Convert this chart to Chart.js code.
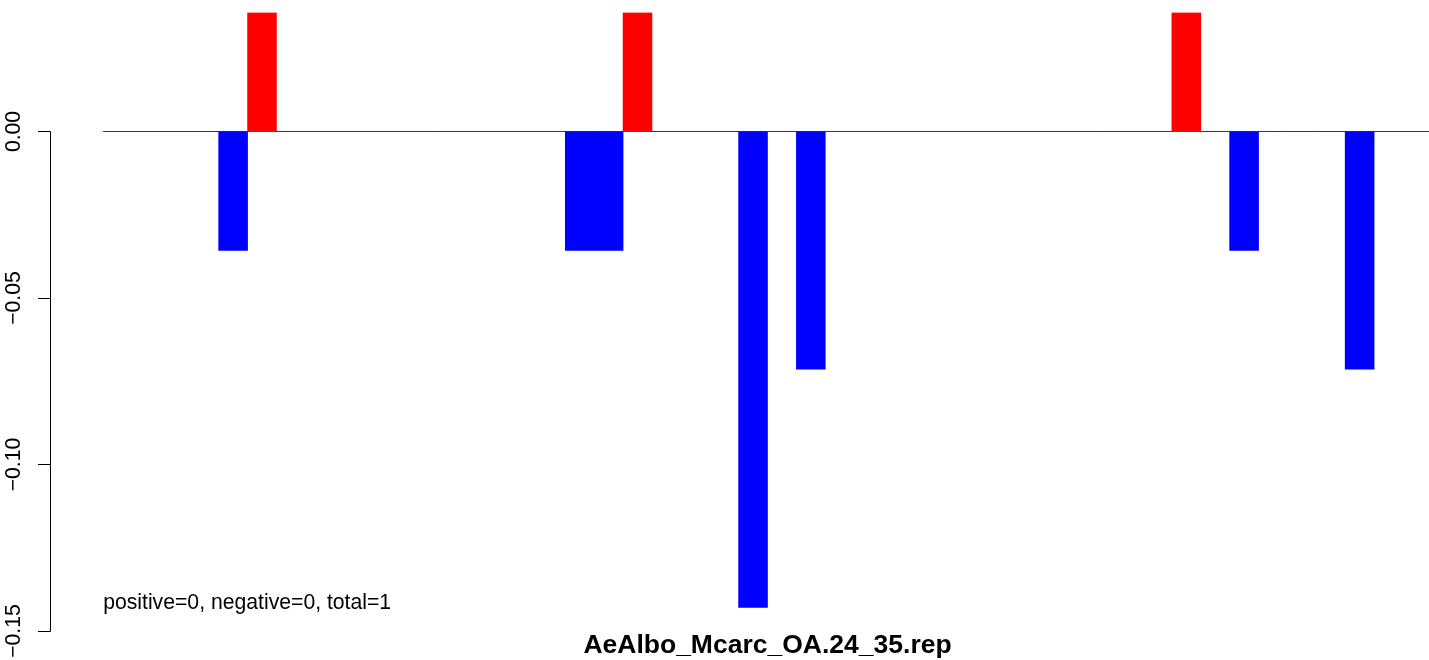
<!DOCTYPE html>
<html>
<head>
<meta charset="utf-8">
<title>AeAlbo_Mcarc_OA.24_35.rep</title>
<script src="https://cdn.jsdelivr.net/npm/chart.js@4.4.1/dist/chart.umd.min.js"></script>
<style>
  html, body { margin: 0; padding: 0; background: #fff; overflow: hidden; }
  /* the R plot region runs past the right edge of the window, so the canvas does too */
  #wrap { position: relative; width: 1534px; height: 660px; }
</style>
</head>
<body>
<div id="wrap"><canvas id="chart"></canvas></div>
<script>
// ─── Data ────────────────────────────────────────────────────────────────────
// one value per bin, left to right; 46 bins, bin width 1
const binValues = [
     0,       0,       0,       0, -0.0357,  0.0357,       0,       0,
     0,       0,       0,       0,       0,       0,       0,       0,
-0.0357, -0.0357,  0.0357,       0,       0,       0, -0.1429,       0,
-0.0714,       0,       0,       0,       0,       0,       0,       0,
     0,       0,       0,       0,       0,  0.0357,       0, -0.0357,
     0,       0,       0, -0.0714,       0,       0
];
const yTicks      = [0, -0.05, -0.10, -0.15];
const yTickLabels = ['0.00', '\u22120.05', '\u22120.10', '\u22120.15'];
const titleText   = 'AeAlbo_Mcarc_OA.24_35.rep';
const noteText    = 'positive=0, negative=0, total=1';

const FONT = '"Liberation Sans", Arial, Helvetica, sans-serif';

// ─── R-style left axis: line only between first and last tick ───────────────
const rAxis = {
    id: 'rAxis',
    afterDraw(chart) {
        const { ctx, chartArea, scales: { x, y } } = chart;
        const x0 = Math.round(chartArea.left) + 0.5;

        ctx.save();
        ctx.strokeStyle = '#000';
        ctx.lineWidth = 1;
        ctx.beginPath();
        ctx.moveTo(x0, Math.round(y.getPixelForValue(yTicks[0])) + 0.5);
        ctx.lineTo(x0, Math.round(y.getPixelForValue(yTicks[yTicks.length - 1])) + 0.5);
        yTicks.forEach(v => {
            const py = Math.round(y.getPixelForValue(v)) + 0.5;
            ctx.moveTo(x0 - 12.5, py);
            ctx.lineTo(x0, py);
        });
        ctx.stroke();

        // rotated tick labels
        ctx.fillStyle = '#000';
        ctx.font = '21.2px ' + FONT;
        ctx.textAlign = 'center';
        ctx.textBaseline = 'middle';
        yTicks.forEach((v, i) => {
            ctx.save();
            ctx.translate(14, y.getPixelForValue(v));
            ctx.rotate(-Math.PI / 2);
            ctx.fillText(yTickLabels[i], 0, 0);
            ctx.restore();
        });

        // note in the lower-left of the plot
        ctx.textAlign = 'left';
        ctx.fillText(noteText, x.getPixelForValue(0), chartArea.bottom - 28);
        ctx.restore();
    }
};

// ─── Chart ───────────────────────────────────────────────────────────────────
new Chart(document.getElementById('chart'), {
    type: 'bar',
    data: {
        datasets: [
            {
                type: 'line',
                data: [{ x: 0, y: 0 }, { x: binValues.length, y: 0 }],
                borderColor: '#555555',
                borderWidth: 1,
                pointRadius: 0,
                order: 1
            },
            {
                type: 'bar',
                data: binValues.map((v, i) => ({ x: i + 0.5, y: v })),
                backgroundColor: binValues.map(v => v > 0 ? '#ff0000' : '#0000ff'),
                borderWidth: 0,
                categoryPercentage: 1,
                barPercentage: 1,
                order: 0
            }
        ]
    },
    options: {
        responsive: true,
        maintainAspectRatio: false,
        animation: false,
        layout: { padding: { left: 50, right: 49, top: 12.6, bottom: 0 } },
        scales: {
            // R barplot xlim: 4% extension on each side of 0..46
            x: { type: 'linear', min: -1.84, max: 47.84, offset: false, display: false },
            y: { min: -0.15, max: 0.0357, display: false }
        },
        plugins: {
            legend: { display: false },
            tooltip: { enabled: false },
            title: {
                display: true,
                position: 'bottom',
                text: titleText,
                color: '#000',
                font: { family: FONT, size: 26.5, weight: 'bold', lineHeight: 1 },
                padding: { top: 1.5, bottom: 1 }
            }
        }
    },
    plugins: [rAxis]
});
</script>
</body>
</html>
